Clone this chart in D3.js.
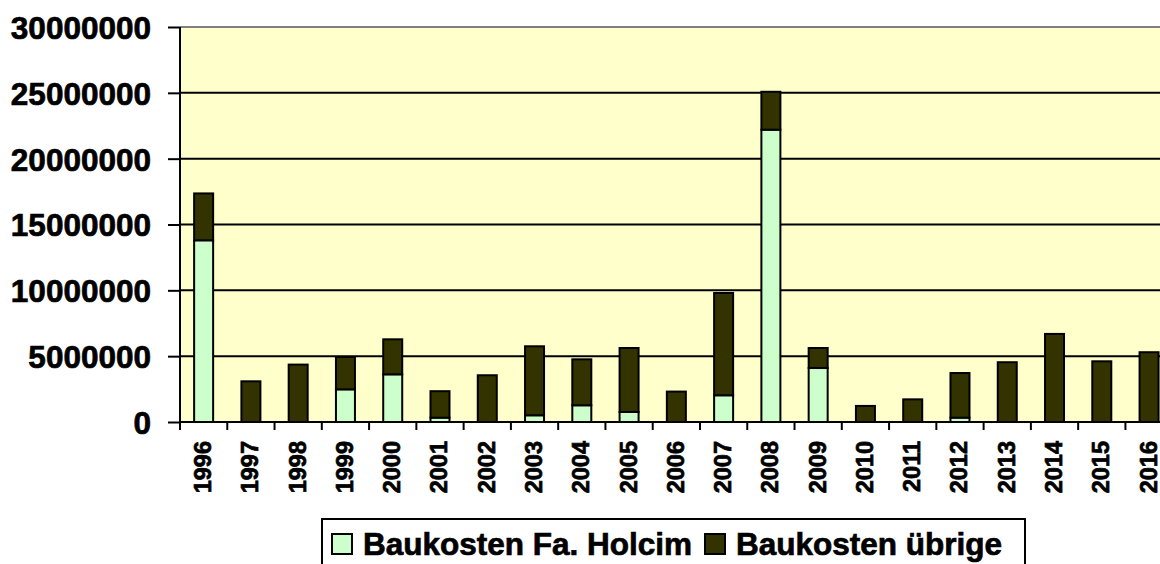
<!DOCTYPE html>
<html>
<head>
<meta charset="utf-8">
<script src="https://cdn.jsdelivr.net/npm/d3@7"></script>
<style>
  body { margin: 0; background: #fff; }
  text { font-family: "Liberation Sans", Arial, sans-serif; font-weight: bold; stroke: #000; stroke-width: 0.7px; }
</style>
</head>
<body>
<div class="chart"></div>
<script>
// data
var years = ["1996","1997","1998","1999","2000","2001","2002","2003","2004","2005","2006",
             "2007","2008","2009","2010","2011","2012","2013","2014","2015","2016"];
var holcim = [13800000, 0, 0, 2480000, 3620000, 330000, 0, 510000, 1270000, 760000, 0,
              2030000, 22200000, 4100000, 0, 0, 330000, 0, 0, 0, 0];
var uebrigeTotal = [17360000, 3090000, 4360000, 4940000, 6280000, 2340000, 3550000, 5750000, 4760000, 5620000, 2310000,
                    9800000, 25080000, 5620000, 1220000, 1720000, 3720000, 4540000, 6690000, 4610000, 5300000];
var yTicks = [0, 5000000, 10000000, 15000000, 20000000, 25000000, 30000000];
var seriesNames = ["Baukosten Fa. Holcim", "Baukosten übrige"];
var seriesColors = ["#CCFFCC", "#333300"];

var svgWidth = 1160, svgHeight = 564;
var plotLeft = 180, plotTop = 27, plotBottom = 422, plotRight = 1172.7;

var svg = d3.select(".chart").append("svg")
    .attr("width", svgWidth)
    .attr("height", svgHeight);

// build stacked table
var table = years.map(function(y, i) {
    return { year: y, holcim: holcim[i], uebrige: uebrigeTotal[i] - holcim[i] };
});
var stacked = d3.stack().keys(["holcim", "uebrige"])(table);

var xScale = d3.scaleBand().domain(years).range([plotLeft, plotRight]).padding(0);
var yScale = d3.scaleLinear().domain([0, 30000000]).range([plotBottom, plotTop]);

// plot background
svg.append("rect")
    .attr("x", plotLeft).attr("y", plotTop)
    .attr("width", plotRight - plotLeft).attr("height", plotBottom - plotTop)
    .attr("fill", "#FFFFCC");

// gridlines
svg.append("g").selectAll("line")
    .data(yTicks.slice(1, -1))
    .enter().append("line")
    .attr("x1", plotLeft).attr("x2", plotRight)
    .attr("y1", d => yScale(d)).attr("y2", d => yScale(d))
    .attr("stroke", "#000").attr("stroke-width", 2);

// top border
svg.append("line")
    .attr("x1", plotLeft).attr("x2", plotRight)
    .attr("y1", plotTop).attr("y2", plotTop)
    .attr("stroke", "#808080").attr("stroke-width", 2);

// bars
var barW = 19;
svg.append("g").selectAll("g")
    .data(stacked)
    .enter().append("g")
    .attr("fill", (d, i) => seriesColors[i])
    .selectAll("rect")
    .data(d => d.filter(p => p[1] - p[0] > 0))
    .enter().append("rect")
    .attr("x", d => xScale(d.data.year) + xScale.bandwidth() / 2 - barW / 2)
    .attr("y", d => yScale(d[1]))
    .attr("width", barW)
    .attr("height", d => yScale(d[0]) - yScale(d[1]))
    .attr("stroke", "#000")
    .attr("stroke-width", 2);

// y axis
var leftAxis = d3.axisLeft(yScale).tickValues(yTicks).tickSize(12).tickPadding(17).tickFormat(d3.format("d"));
var yAxisG = svg.append("g")
    .attr("transform", `translate(${plotLeft},0)`)
    .call(leftAxis);
yAxisG.select(".domain").attr("stroke", "#000").attr("stroke-width", 2)
    .attr("d", `M0,${plotTop}V${plotBottom}`);
yAxisG.selectAll(".tick line").attr("stroke", "#000").attr("stroke-width", 2);
yAxisG.selectAll(".tick text")
    .attr("fill", "#000")
    .style("font-size", "31.5px")
    .attr("dy", "0.36em");

// x axis: ticks at band boundaries
var xAxisG = svg.append("g");
xAxisG.append("line")
    .attr("x1", plotLeft).attr("x2", plotRight)
    .attr("y1", plotBottom).attr("y2", plotBottom)
    .attr("stroke", "#000").attr("stroke-width", 2);
xAxisG.selectAll(".xt")
    .data(years)
    .enter().append("line")
    .attr("x1", d => xScale(d)).attr("x2", d => xScale(d))
    .attr("y1", plotBottom).attr("y2", plotBottom + 8)
    .attr("stroke", "#000").attr("stroke-width", 2);
xAxisG.selectAll(".xl")
    .data(years)
    .enter().append("text")
    .attr("transform", d => `translate(${xScale(d) + xScale.bandwidth() / 2 - 1},441) rotate(-90)`)
    .attr("text-anchor", "end")
    .attr("dy", "0.36em")
    .style("font-size", "23.5px")
    .text(d => d);

// legend
var legend = svg.append("g");
legend.append("rect")
    .attr("x", 322).attr("y", 519)
    .attr("width", 703).attr("height", 60)
    .attr("fill", "#fff").attr("stroke", "#000").attr("stroke-width", 2);
var legendX = [332, 705];
seriesNames.forEach(function(name, i) {
    legend.append("rect")
        .attr("x", legendX[i]).attr("y", 534)
        .attr("width", 20).attr("height", 20)
        .attr("fill", seriesColors[i]).attr("stroke", "#000").attr("stroke-width", 2);
    legend.append("text")
        .attr("x", legendX[i] + 31).attr("y", 555)
        .style("font-size", "31.5px")
        .text(name);
});
</script>
</body>
</html>
